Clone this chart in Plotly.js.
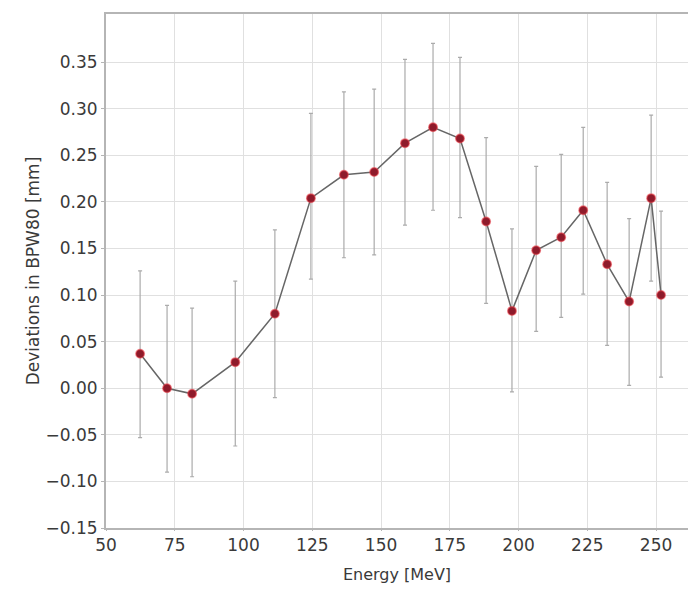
<!DOCTYPE html>
<html>
<head>
<meta charset="utf-8">
<script src="https://cdn.plot.ly/plotly-3.0.1.min.js"></script>
<style>html,body{margin:0;padding:0;background:#fff;}#chart{width:688px;height:593px;}</style>
</head>
<body>
<div id="chart"></div>
<script>
const energy = [62.4, 72.2, 81.3, 97.0, 111.4, 124.5, 136.5, 147.5, 158.7, 168.9, 178.7, 188.2, 197.6, 206.4, 215.5, 223.5, 232.2, 240.2, 248.2, 251.8];
const deviation = [0.037, 0.000, -0.006, 0.028, 0.080, 0.204, 0.229, 0.232, 0.263, 0.280, 0.268, 0.179, 0.083, 0.148, 0.162, 0.191, 0.133, 0.093, 0.204, 0.100];
const errUp = [0.089, 0.089, 0.092, 0.087, 0.090, 0.091, 0.089, 0.089, 0.090, 0.090, 0.087, 0.090, 0.088, 0.090, 0.089, 0.089, 0.088, 0.089, 0.089, 0.090];
const errDown = [0.090, 0.090, 0.089, 0.090, 0.090, 0.087, 0.089, 0.089, 0.088, 0.089, 0.085, 0.088, 0.087, 0.087, 0.086, 0.090, 0.087, 0.090, 0.089, 0.088];
const xTicks = [50, 75, 100, 125, 150, 175, 200, 225, 250];
const yTicks = [-0.15, -0.10, -0.05, 0.00, 0.05, 0.10, 0.15, 0.20, 0.25, 0.30, 0.35];

const trace = {
  x: energy, y: deviation, type: 'scatter', mode: 'lines+markers',
  line: {color: '#666666', width: 1.5},
  marker: {color: '#8e1b2b', size: 8.5, line: {color: 'rgba(235,60,70,0.55)', width: 1.5}},
  error_y: {type: 'data', symmetric: false, array: errUp, arrayminus: errDown,
            color: '#ababab', thickness: 1.2, width: 2}
};
const font = {family: 'DejaVu Sans, Verdana, sans-serif', color: '#3a3a3a'};
const layout = {
  width: 688, height: 593,
  margin: {l: 106, r: 0, t: 14, b: 65},
  paper_bgcolor: '#fff', plot_bgcolor: '#fff',
  showlegend: false,
  font: font,
  xaxis: {
    range: [50, 261.6], tickvals: xTicks, ticktext: xTicks.map(String),
    showgrid: true, gridcolor: '#e0e0e0', gridwidth: 1,
    showline: true, linecolor: '#b5b5b5', linewidth: 2, mirror: true,
    ticks: 'outside', ticklen: 1, tickcolor: '#b5b5b5',
    tickfont: {family: font.family, size: 17, color: '#3a3a3a'},
    zeroline: false,
    title: {text: 'Energy [MeV]', font: {family: font.family, size: 16, color: '#3a3a3a'}, standoff: 14}
  },
  yaxis: {
    range: [-0.15, 0.4016], tickvals: yTicks, ticktext: yTicks.map(v => (v < 0 ? '\u2212' : '') + Math.abs(v).toFixed(2)),
    showgrid: true, gridcolor: '#e0e0e0', gridwidth: 1,
    showline: true, linecolor: '#b5b5b5', linewidth: 2,
    ticks: 'outside', ticklen: 3, tickcolor: '#b5b5b5',
    tickfont: {family: font.family, size: 17, color: '#3a3a3a'},
    zeroline: false,
    title: {text: 'Deviations in BPW80 [mm]', font: {family: font.family, size: 17, color: '#3a3a3a'}, standoff: 2}
  }
};
Plotly.newPlot('chart', [trace], layout, {displayModeBar: false, staticPlot: true});
</script>
</body>
</html>
